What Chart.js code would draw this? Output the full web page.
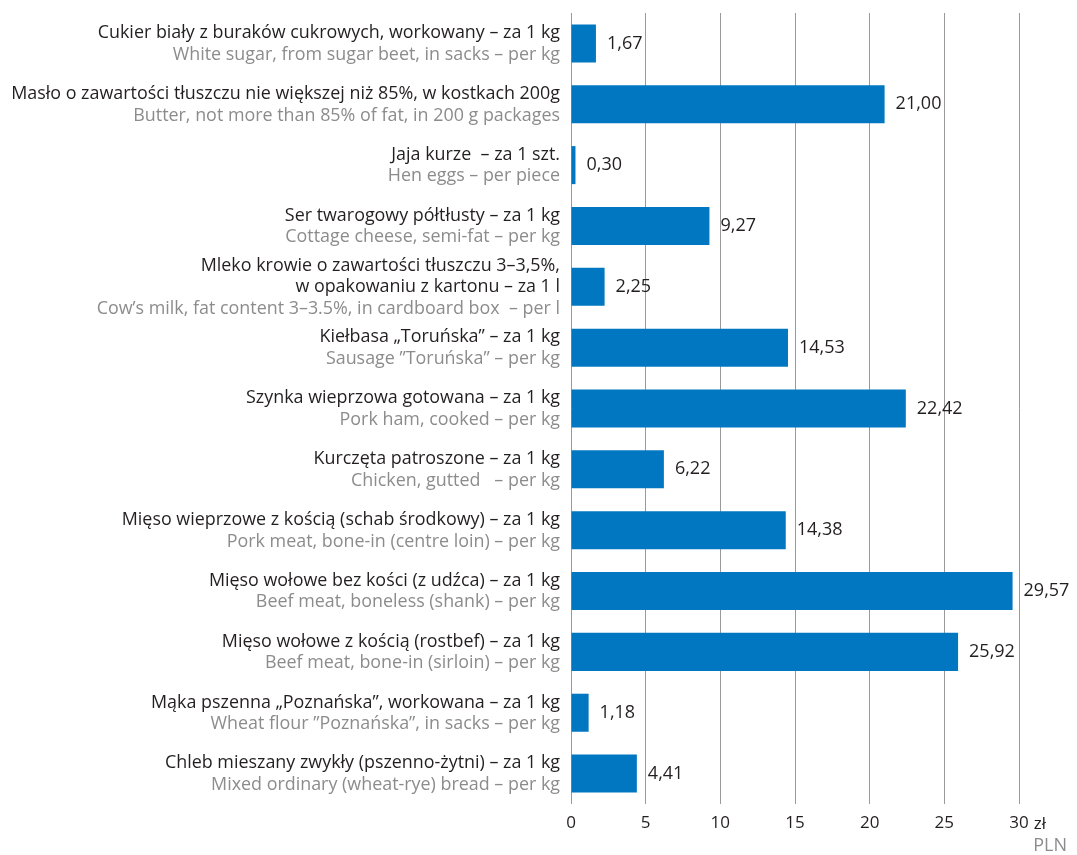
<!DOCTYPE html>
<html>
<head>
<meta charset="utf-8">
<script src="https://cdn.jsdelivr.net/npm/chart.js@4"></script>
<style>
  body { margin: 0; background: #fff; }
  #wrap { position: relative; width: 1077px; height: 855px; }
</style>
</head>
<body>
<div id="wrap"><canvas id="chart"></canvas></div>
<script>
// Polish labels (array = several lines)
const labelsPl = [
  ["Cukier biały z buraków cukrowych, workowany – za 1 kg"],
  ["Masło o zawartości tłuszczu nie większej niż 85%, w kostkach 200g"],
  ["Jaja kurze  – za 1 szt."],
  ["Ser twarogowy półtłusty – za 1 kg"],
  ["Mleko krowie o zawartości tłuszczu 3–3,5%,", "w opakowaniu z kartonu – za 1 l"],
  ["Kiełbasa „Toruńska” – za 1 kg"],
  ["Szynka wieprzowa gotowana – za 1 kg"],
  ["Kurczęta patroszone – za 1 kg"],
  ["Mięso wieprzowe z kością (schab środkowy) – za 1 kg"],
  ["Mięso wołowe bez kości (z udźca) – za 1 kg"],
  ["Mięso wołowe z kością (rostbef) – za 1 kg"],
  ["Mąka pszenna „Poznańska”, workowana – za 1 kg"],
  ["Chleb mieszany zwykły (pszenno-żytni) – za 1 kg"],
];

const labelsEn = [
  "White sugar, from sugar beet, in sacks – per kg",
  "Butter, not more than 85% of fat, in 200 g packages",
  "Hen eggs – per piece",
  "Cottage cheese, semi-fat – per kg",
  "Cow’s milk, fat content 3–3.5%, in cardboard box  – per l",
  "Sausage ”Toruńska” – per kg",
  "Pork ham, cooked – per kg",
  "Chicken, gutted   – per kg",
  "Pork meat, bone-in (centre loin) – per kg",
  "Beef meat, boneless (shank) – per kg",
  "Beef meat, bone-in (sirloin) – per kg",
  "Wheat flour ”Poznańska”, in sacks – per kg",
  "Mixed ordinary (wheat-rye) bread – per kg",
];

const prices = [1.67, 21.00, 0.30, 9.27, 2.25, 14.53, 22.42, 6.22, 14.38, 29.57, 25.92, 1.18, 4.41];

const xTicks = [0, 5, 10, 15, 20, 25, 30];

const FONT = "'Open Sans', sans-serif";
const BLUE = "#0077c0";
const DARK = "#231f20";
const GRAY = "#8c8c8c";

// labels left of the plot, values right of the bars, "zł" and "PLN"
const textPlugin = {
  id: "textPlugin",
  afterDraw(chart) {
    const ctx = chart.ctx;
    const xs = chart.scales.x;
    const ys = chart.scales.y;
    const lineH = 21.5;

    ctx.save();
    ctx.textBaseline = "middle";

    prices.forEach((v, i) => {
      const yc = ys.getPixelForValue(i);
      const lines = labelsPl[i].map((t) => ({ t, c: DARK })).concat([{ t: labelsEn[i], c: GRAY }]);
      const y0 = yc - ((lines.length - 1) * lineH) / 2 + 0.5;
      ctx.textAlign = "right";
      ctx.font = "17.9px " + FONT;
      lines.forEach((ln, k) => {
        ctx.fillStyle = ln.c;
        ctx.fillText(ln.t, 560, y0 + k * lineH);
      });

      ctx.textAlign = "left";
      ctx.font = "18px " + FONT;
      ctx.fillStyle = DARK;
      ctx.fillText(v.toFixed(2).replace(".", ","), xs.getPixelForValue(v) + 11, yc);
    });

    // currency after the last tick
    ctx.font = "17px " + FONT;
    const last = xTicks[xTicks.length - 1];
    const lx = xs.getPixelForValue(last) + ctx.measureText(String(last)).width / 2 + 5;
    ctx.textAlign = "left";
    ctx.fillStyle = DARK;
    ctx.fillText("zł", lx, 824);

    ctx.font = "18px " + FONT;
    ctx.fillStyle = GRAY;
    ctx.textAlign = "right";
    ctx.fillText("PLN", 1067, 846);
    ctx.restore();
  },
};

new Chart(document.getElementById("chart"), {
  type: "bar",
  data: {
    labels: labelsEn,
    datasets: [
      {
        data: prices,
        backgroundColor: BLUE,
        categoryPercentage: 1,
        barPercentage: 0.625,
      },
    ],
  },
  options: {
    indexAxis: "y",
    responsive: true,
    maintainAspectRatio: false,
    animation: false,
    layout: { padding: { left: 571, right: 58, top: 13, bottom: 0 } },
    plugins: { legend: { display: false }, tooltip: { enabled: false } },
    scales: {
      y: { display: false },
      x: {
        min: 0,
        max: 30,
        afterBuildTicks(scale) {
          scale.ticks = xTicks.map((v) => ({ value: v }));
        },
        afterFit(scale) {
          scale.height = 51;
        },
        grid: { color: "#9a9a9a", lineWidth: 1, drawTicks: false },
        border: { display: false },
        ticks: {
          padding: 9,
          color: DARK,
          font: { family: "Open Sans", size: 17 },
          maxRotation: 0,
        },
      },
    },
  },
  plugins: [textPlugin],
});
</script>
</body>
</html>
